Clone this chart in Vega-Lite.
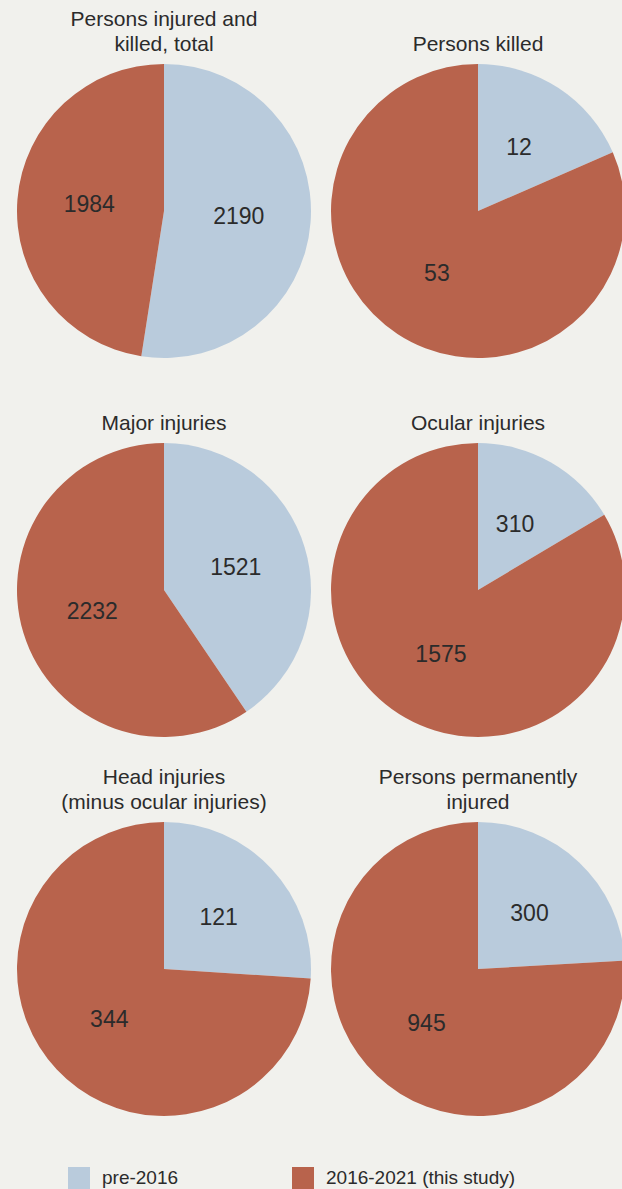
{
  "$schema": "https://vega.github.io/schema/vega-lite/v6.json",
  "background": "#f1f1ed",
  "padding": {"left": 17, "top": 9, "right": 0, "bottom": 5},
  "config": {
    "view": {"stroke": null},
    "font": "Liberation Sans",
    "title": {"fontSize": 21, "fontWeight": "normal", "color": "#2b2b2b", "lineHeight": 25, "offset": 9, "anchor": "middle"}
  },
  "data": {
    "values": [
      {"panel": "A", "period": "pre-2016", "value": 2190},
      {"panel": "A", "period": "2016-2021 (this study)", "value": 1984},
      {"panel": "B", "period": "pre-2016", "value": 12},
      {"panel": "B", "period": "2016-2021 (this study)", "value": 53},
      {"panel": "C", "period": "pre-2016", "value": 1521},
      {"panel": "C", "period": "2016-2021 (this study)", "value": 2232},
      {"panel": "D", "period": "pre-2016", "value": 310},
      {"panel": "D", "period": "2016-2021 (this study)", "value": 1575},
      {"panel": "E", "period": "pre-2016", "value": 121},
      {"panel": "E", "period": "2016-2021 (this study)", "value": 344},
      {"panel": "F", "period": "pre-2016", "value": 300},
      {"panel": "F", "period": "2016-2021 (this study)", "value": 945}
    ]
  },
  "columns": 2,
  "spacing": {"row": 30, "column": 20},
  "concat": [
    {
      "title": {"text": ["Persons injured and", "killed, total"]},
      "transform": [{"filter": "datum.panel === 'A'"}],
      "width": 294, "height": 294,
      "encoding": {
        "theta": {"field": "value", "type": "quantitative", "stack": true},
        "order": {"field": "period", "sort": "descending"}
      },
      "layer": [
        {"mark": {"type": "arc"}, "encoding": {"color": {"field": "period", "type": "nominal", "scale": {"domain": ["pre-2016", "2016-2021 (this study)"], "range": ["#b9cbdc", "#b8634c"]}, "legend": {"orient": "none", "legendX": 51, "legendY": 1103, "direction": "horizontal", "title": null, "symbolType": "square", "symbolSize": 484, "symbolStrokeWidth": 0, "labelFontSize": 19, "labelColor": "#2b2b2b", "labelOffset": 12, "columnPadding": 113, "labelLimit": 400}}}},
        {"mark": {"type": "text", "radius": 75, "fontSize": 23, "color": "#2b2b2b"}, "encoding": {"text": {"field": "value", "type": "quantitative"}}}
      ]
    },
    {
      "title": {"text": ["", "Persons killed"]},
      "transform": [{"filter": "datum.panel === 'B'"}],
      "width": 294, "height": 294,
      "encoding": {
        "theta": {"field": "value", "type": "quantitative", "stack": true},
        "order": {"field": "period", "sort": "descending"}
      },
      "layer": [
        {"mark": {"type": "arc"}, "encoding": {"color": {"field": "period", "type": "nominal"}}},
        {"mark": {"type": "text", "radius": 75, "fontSize": 23, "color": "#2b2b2b"}, "encoding": {"text": {"field": "value", "type": "quantitative"}}}
      ]
    },
    {
      "title": {"text": ["", "Major injuries"]},
      "transform": [{"filter": "datum.panel === 'C'"}],
      "width": 294, "height": 294,
      "encoding": {
        "theta": {"field": "value", "type": "quantitative", "stack": true},
        "order": {"field": "period", "sort": "descending"}
      },
      "layer": [
        {"mark": {"type": "arc"}, "encoding": {"color": {"field": "period", "type": "nominal"}}},
        {"mark": {"type": "text", "radius": 75, "fontSize": 23, "color": "#2b2b2b"}, "encoding": {"text": {"field": "value", "type": "quantitative"}}}
      ]
    },
    {
      "title": {"text": ["", "Ocular injuries"]},
      "transform": [{"filter": "datum.panel === 'D'"}],
      "width": 294, "height": 294,
      "encoding": {
        "theta": {"field": "value", "type": "quantitative", "stack": true},
        "order": {"field": "period", "sort": "descending"}
      },
      "layer": [
        {"mark": {"type": "arc"}, "encoding": {"color": {"field": "period", "type": "nominal"}}},
        {"mark": {"type": "text", "radius": 75, "fontSize": 23, "color": "#2b2b2b"}, "encoding": {"text": {"field": "value", "type": "quantitative"}}}
      ]
    },
    {
      "title": {"text": ["Head injuries", "(minus ocular injuries)"]},
      "transform": [{"filter": "datum.panel === 'E'"}],
      "width": 294, "height": 294,
      "encoding": {
        "theta": {"field": "value", "type": "quantitative", "stack": true},
        "order": {"field": "period", "sort": "descending"}
      },
      "layer": [
        {"mark": {"type": "arc"}, "encoding": {"color": {"field": "period", "type": "nominal"}}},
        {"mark": {"type": "text", "radius": 75, "fontSize": 23, "color": "#2b2b2b"}, "encoding": {"text": {"field": "value", "type": "quantitative"}}}
      ]
    },
    {
      "title": {"text": ["Persons permanently", "injured"]},
      "transform": [{"filter": "datum.panel === 'F'"}],
      "width": 294, "height": 294,
      "encoding": {
        "theta": {"field": "value", "type": "quantitative", "stack": true},
        "order": {"field": "period", "sort": "descending"}
      },
      "layer": [
        {"mark": {"type": "arc"}, "encoding": {"color": {"field": "period", "type": "nominal"}}},
        {"mark": {"type": "text", "radius": 75, "fontSize": 23, "color": "#2b2b2b"}, "encoding": {"text": {"field": "value", "type": "quantitative"}}}
      ]
    }
  ]
}
